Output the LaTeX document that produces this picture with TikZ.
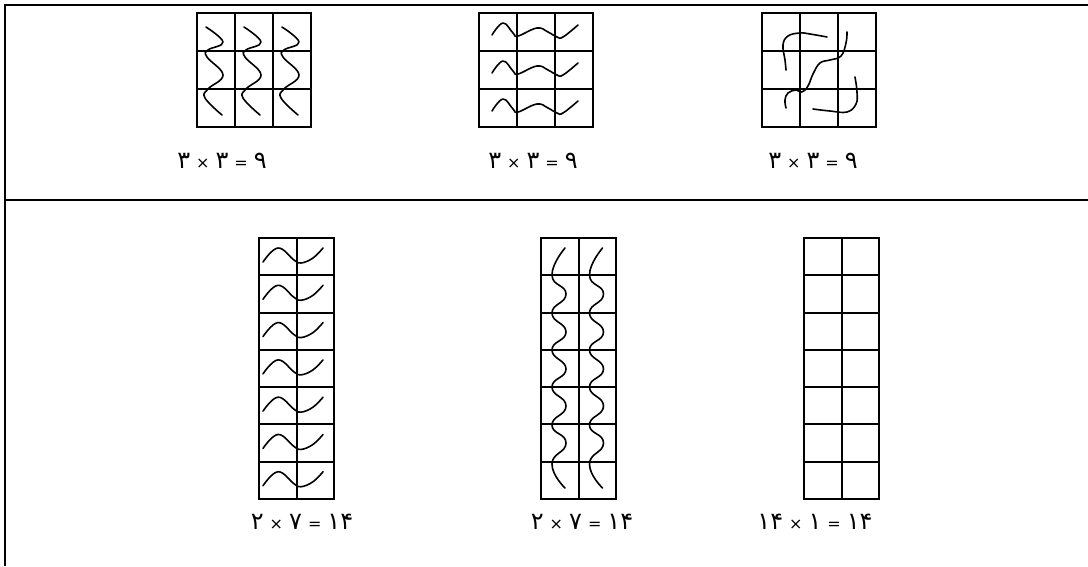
\documentclass[tikz,border=0pt]{standalone}
\usepackage{fontspec}
\newfontfamily\pfont{DejaVu Sans}
\TeXXeTstate=1
\newcommand{\dg}[1]{{\fontsize{24}{24}\selectfont #1}}
\newcommand{\op}[1]{{\fontsize{16}{16}\selectfont #1}}
\newcommand{\gap}{\hspace{6pt}}
\begin{document}
\begin{tikzpicture}[x=1pt,y=-1pt,
  frame/.style={line width=2pt},
  gridline/.style={line width=2pt},
  wave/.style={line width=1.6pt, line cap=round, line join=round},
  lbl/.style={font=\pfont, inner sep=0pt}]
\useasboundingbox (0,0) rectangle (1088,566);
% frame
\draw[frame] (5,566) -- (5,5) -- (1088,5);
\draw[frame] (5,200) -- (1088,200);
% top grids
\foreach \gx in {197,479,762}{
  \draw[gridline] (\gx,13) rectangle ++(114,114);
  \foreach \i in {1,2}{
    \draw[gridline] (\gx+38*\i,13) -- ++(0,114);
    \draw[gridline] (\gx,13+38*\i) -- ++(114,0);
  }
}
% bottom grids
\foreach \gx in {259,541,804}{
  \draw[gridline] (\gx,238) rectangle ++(75,261);
  \draw[gridline] (\gx+37.5,238) -- ++(0,261);
  \foreach \i in {1,...,6}{
    \draw[gridline] (\gx,238+37.29*\i) -- ++(75,0);
  }
}
% grid 1: vertical S-curves
\foreach \k in {0,1,2}{
  \begin{scope}[shift={(197+38*\k,13)}]
  \draw[wave] plot[smooth, tension=0.7] coordinates {(9,14) (26,29) (11,37) (10,44) (26,62) (11,76) (8,85) (25,102)};
  \end{scope}
}
% grid 2: horizontal waves
\foreach \k in {0,1,2}{
  \begin{scope}[shift={(479,13+38*\k)}]
  \draw[wave] plot[smooth, tension=0.7] coordinates {(13,22) (24,10) (34,20) (39,23) (58,15) (69,19) (78,24) (84,24) (99,12)};
  \end{scope}
}
% grid 3: free curves
\draw[wave] plot[smooth, tension=0.7] coordinates {(827,37) (810,34) (800,33) (788,36) (783,45) (785,60) (786,70)};
\draw[wave] plot[smooth, tension=0.7] coordinates {(847,32) (846,43) (841,56) (830,60) (820,63) (813,74) (808,86) (802,92) (796,90) (788,93) (785,100) (786,108)};
\draw[wave] plot[smooth, tension=0.7] coordinates {(855,77) (857,92) (856,104) (847,112) (830,111) (813,109)};
% grid 4: horizontal waves per row
\foreach \k in {0,...,6}{
  \begin{scope}[shift={(259,238+37.29*\k)}]
  \draw[wave] plot[smooth, tension=0.7] coordinates {(4,24) (19,10) (35,22) (42,25) (54,20) (64,10)};
  \end{scope}
}
% grid 5: vertical waves per column
\foreach \k in {0,1}{
  \begin{scope}[shift={(541+37.5*\k,238)}]
  \draw[wave] plot[smooth, tension=0.9] coordinates {(24,10) (11,37) (25,56) (11,75) (25,94) (11,112) (25,131) (11,149) (25,168) (11,187) (25,205) (11,226) (24,250)};
  \end{scope}
}
% labels
\node[lbl] (l1) at (222,161) {\beginR\dg{۹}\gap\op{=}\gap\dg{۳}\gap\op{×}\gap\dg{۳}\endR};
\node[lbl] (l2) at (533,161) {\beginR\dg{۹}\gap\op{=}\gap\dg{۳}\gap\op{×}\gap\dg{۳}\endR};
\node[lbl] (l3) at (813,161) {\beginR\dg{۹}\gap\op{=}\gap\dg{۳}\gap\op{×}\gap\dg{۳}\endR};
\node[lbl] (l4) at (302,522) {\beginR\beginL\dg{۱۴}\endL\gap\op{=}\gap\dg{۷}\gap\op{×}\gap\dg{۲}\endR};
\node[lbl] (l5) at (582,522) {\beginR\beginL\dg{۱۴}\endL\gap\op{=}\gap\dg{۷}\gap\op{×}\gap\dg{۲}\endR};
\node[lbl] (l6) at (815,522) {\beginR\beginL\dg{۱۴}\endL\gap\op{=}\gap\dg{۱}\gap\op{×}\gap\beginL\dg{۱۴}\endL\endR};
\end{tikzpicture}
\end{document}
